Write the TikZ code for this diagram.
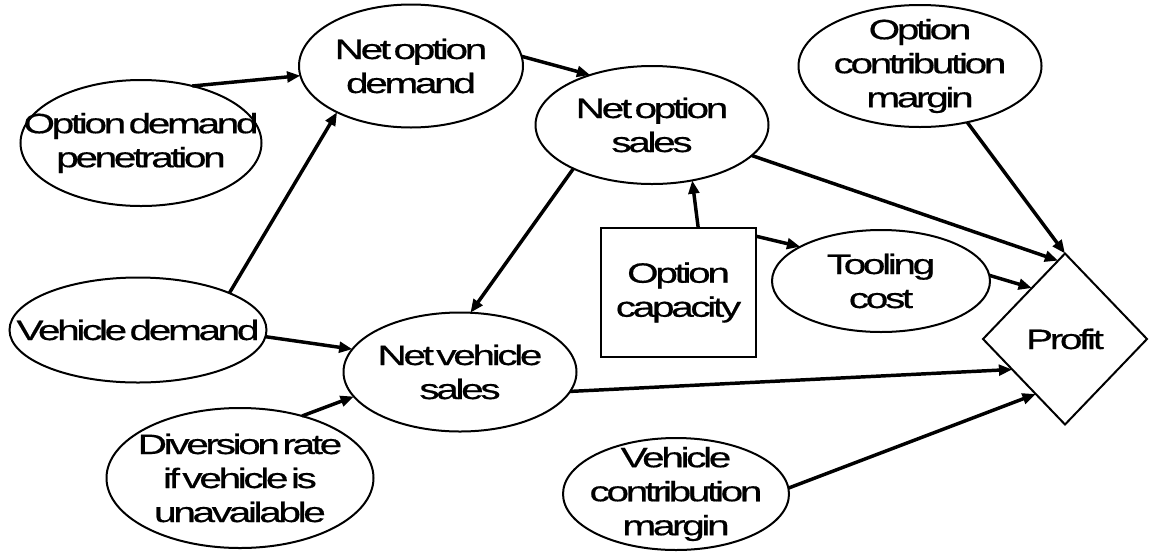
\documentclass[tikz,border=0pt]{standalone}
\usepackage{fontspec}
\setmainfont{Liberation Sans}[FakeStretch=1.45,LetterSpace=-12,WordSpace=0.3,FakeBold=0.5]
\usetikzlibrary{shapes.geometric,arrows.meta}
\newcommand\lblfont{\fontsize{21}{25.5}\selectfont}
\begin{document}
\begin{tikzpicture}[x=0.75pt,y=-0.75pt,
  txt/.style={font=\lblfont,align=center,inner sep=0pt},
  oval/.style 2 args={ellipse,draw,line width=1.5pt,inner sep=0pt,outer sep=0pt,
    minimum width=#1*0.75pt,minimum height=#2*0.75pt},
  boxnode/.style 2 args={rectangle,draw,line width=1.5pt,inner sep=0pt,outer sep=0pt,
    minimum width=#1*0.75pt,minimum height=#2*0.75pt},
  dia/.style 2 args={diamond,draw,line width=1.5pt,inner sep=0pt,outer sep=0pt,
    minimum width=#1*0.75pt,minimum height=#2*0.75pt},
  conn/.style={line width=2.6pt,-{Triangle[length=10pt,width=8pt]}}]
\useasboundingbox (0,0) rectangle (1149,554);
\fill[white] (0,0) rectangle (1149,554);

\node[oval={224}{123},label={[txt]center:Net option\\demand}] (nod) at (411,66) {};
\node[oval={241}{126},label={[txt]center:Option demand\\penetration}] (odp) at (141,143) {};
\node[oval={233}{118},label={[txt]center:Net option\\sales}] (nos) at (652,125) {};
\node[oval={243}{122},label={[txt]center:Option\\contribution\\margin}] (ocm) at (920,66) {};
\node[oval={257}{105},label={[txt]center:Vehicle demand}] (vd) at (138,330) {};
\node[oval={233}{119},label={[txt]center:Net vehicle\\sales}] (nvs) at (460,372) {};
\node[boxnode={155}{129},label={[txt]center:Option\\capacity}] (oc) at (678.5,292.5) {};
\node[oval={218}{102},label={[txt]center:Tooling\\cost}] (tc) at (881,281) {};
\node[dia={164}{171},label={[txt]center:Profit}] (profit) at (1065,339) {};
\node[oval={267}{140},label={[txt]center:Diversion rate\\if vehicle is\\unavailable}] (dr) at (240,478) {};
\node[oval={226}{112},label={[txt]center:Vehicle\\contribution\\margin}] (vcm) at (676,494) {};

\draw[conn] (odp.48) -- (nod.185.6);
\draw[conn] (vd.22.9) -- (nod.212.9);
\draw[conn] (nod.5.5) -- (nos.141);
\draw[conn] (nos.209.9) -- (nvs.80.8);
\draw[conn] (nos.343.1) -- (profit.95);
\draw[conn] (ocm.310.7) -- (profit.north);
\draw[conn] (oc.73.8) -- (nos.306.6);
\draw[conn] (oc.36.6) -- (tc.157.2);
\draw[conn] (tc.3.2) -- (profit.123.2);
\draw[conn] (vd.357.8) -- (nvs.168.7);
\draw[conn] (dr.45) -- (nvs.193.1);
\draw[conn] (nvs.350) -- (profit.210.1);
\draw[conn] (vcm.3.2) -- (profit.242.7);
\end{tikzpicture}
\end{document}
